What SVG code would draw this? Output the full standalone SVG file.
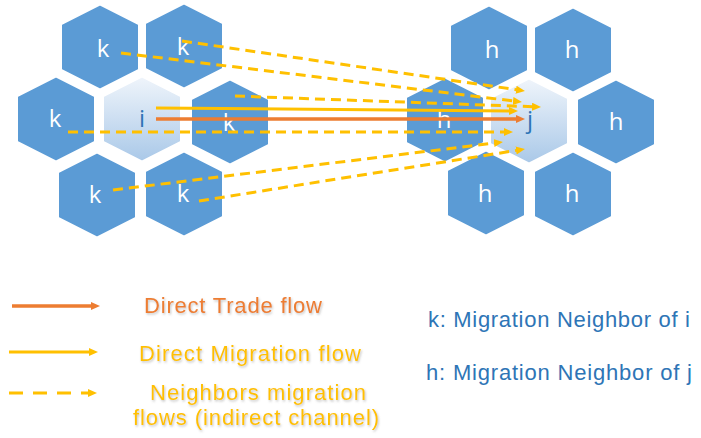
<svg xmlns="http://www.w3.org/2000/svg" xmlns:xlink="http://www.w3.org/1999/xlink" width="701" height="438" viewBox="0 0 701 438">
<style>
.hex{fill:#5B9BD5;stroke:#FFFFFF;stroke-width:3}
.hexc{fill:url(#cg);stroke:#FFFFFF;stroke-width:3}
.lbl{font-family:"Open Sans","Liberation Sans",sans-serif;font-size:24px;fill:#FFFFFF;text-anchor:middle}
.lblc{font-family:"Open Sans","Liberation Sans",sans-serif;font-size:24px;fill:#2E75B6;text-anchor:middle}
.dash{stroke:#FFC000;stroke-width:3;fill:none;stroke-dasharray:10 6;marker-end:url(#ay)}
.mig{stroke:#FFC000;stroke-width:3;fill:none;marker-end:url(#ay)}
.trade{stroke:#ED7D31;stroke-width:3.5;fill:none;marker-end:url(#ao)}
.leg{font-family:"Liberation Sans",Arial,sans-serif;font-size:22px;filter:url(#sh)}
.key{font-family:"Liberation Sans",Arial,sans-serif;font-size:22px;fill:#2E75B6}
</style>
<defs>
<linearGradient id="cg" x1="0" y1="0" x2="0" y2="1">
<stop offset="0" stop-color="#F0F5FB"/>
<stop offset="1" stop-color="#A9C8E8"/>
</linearGradient>
<polygon id="hx" points="0,-43 39.5,-23 39.5,23 0,43 -39.5,23 -39.5,-23"/>
<marker id="ay" markerUnits="userSpaceOnUse" markerWidth="10" markerHeight="9" refX="3" refY="4" orient="auto">
<path d="M0,0 L9,4 L0,8 z" fill="#FFC000"/>
</marker>
<marker id="ao" markerUnits="userSpaceOnUse" markerWidth="10" markerHeight="9" refX="3" refY="4" orient="auto">
<path d="M0,0 L9,4 L0,8 z" fill="#ED7D31"/>
</marker>
<filter id="sh" x="-5%" y="-20%" width="110%" height="150%">
<feDropShadow dx="1" dy="1.5" stdDeviation="0.8" flood-color="#7F7F7F" flood-opacity="0.45"/>
</filter>
</defs>

<g id="node-k-tl"><use xlink:href="#hx" class="hex" x="100" y="47"/><text class="lbl" x="103" y="57">k</text></g>
<g id="node-k-tr"><use xlink:href="#hx" class="hex" x="184" y="46"/><text class="lbl" x="183" y="55">k</text></g>
<g id="node-k-l"><use xlink:href="#hx" class="hex" x="56" y="119"/><text class="lbl" x="55" y="127">k</text></g>
<g id="node-i"><use xlink:href="#hx" class="hexc" x="142" y="119"/><text class="lblc" x="142" y="127">i</text></g>
<g id="node-k-r"><use xlink:href="#hx" class="hex" x="230" y="122"/><text class="lbl" x="229" y="131">k</text></g>
<g id="node-k-bl"><use xlink:href="#hx" class="hex" x="97" y="195"/><text class="lbl" x="95" y="203">k</text></g>
<g id="node-k-br"><use xlink:href="#hx" class="hex" x="184" y="194"/><text class="lbl" x="183" y="202">k</text></g>

<g id="node-h-tl"><use xlink:href="#hx" class="hex" x="489" y="48"/><text class="lbl" x="492" y="58">h</text></g>
<g id="node-h-tr"><use xlink:href="#hx" class="hex" x="573" y="50"/><text class="lbl" x="572" y="58">h</text></g>
<g id="node-h-l"><use xlink:href="#hx" class="hex" x="445" y="120"/><text class="lbl" x="444" y="128">h</text></g>
<g id="node-j"><use xlink:href="#hx" class="hexc" x="529" y="121"/><text class="lblc" x="530" y="128">j</text></g>
<g id="node-h-r"><use xlink:href="#hx" class="hex" x="616" y="122"/><text class="lbl" x="616" y="130">h</text></g>
<g id="node-h-bl"><use xlink:href="#hx" class="hex" x="486" y="193"/><text class="lbl" x="485" y="202">h</text></g>
<g id="node-h-br"><use xlink:href="#hx" class="hex" x="573" y="194"/><text class="lbl" x="572" y="202">h</text></g>

<g id="connectors">
<line class="dash" x1="182" y1="41" x2="519" y2="90.1"/>
<line class="dash" x1="121" y1="53" x2="516" y2="101.3"/>
<line class="dash" x1="235" y1="96" x2="535" y2="106.8"/>
<line class="dash" x1="68" y1="132" x2="507" y2="132"/>
<line class="dash" x1="113" y1="190" x2="497" y2="142.7"/>
<line class="dash" x1="199" y1="201" x2="519" y2="150"/>
<line class="mig" x1="156" y1="108" x2="512" y2="111"/>
<line class="trade" x1="156" y1="119" x2="519" y2="119"/>
</g>

<g id="legend">
<line class="trade" x1="12" y1="306" x2="94" y2="306"/>
<line class="mig" x1="9" y1="352" x2="92" y2="352"/>
<line class="mig" x1="9" y1="393" x2="91" y2="393" stroke-dasharray="14 10"/>
<text class="leg" x="144" y="313" fill="#ED7D31" textLength="178">Direct Trade flow</text>
<text class="leg" x="139" y="361" fill="#FFC000" textLength="222">Direct Migration flow</text>
<text class="leg" x="150" y="400" fill="#FFC000" textLength="216">Neighbors migration</text>
<text class="leg" x="133" y="425" fill="#FFC000" textLength="246">flows (indirect channel)</text>
<text class="key" x="428" y="327" textLength="262">k: Migration Neighbor of i</text>
<text class="key" x="426" y="380" textLength="266">h: Migration Neighbor of j</text>
</g>
</svg>
